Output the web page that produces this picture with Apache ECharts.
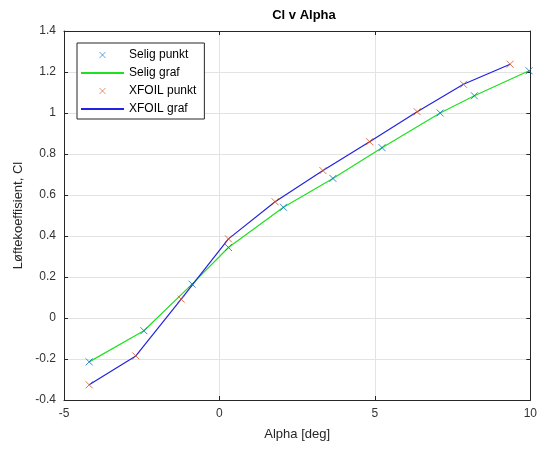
<!DOCTYPE html>
<html>
<head>
<meta charset="utf-8">
<script src="https://cdn.jsdelivr.net/npm/echarts@6/dist/echarts.min.js"></script>
<style>
  html, body { margin: 0; padding: 0; background: #fff; }
  #chart { width: 540px; height: 450px; }
</style>
</head>
<body>
<div id="chart"></div>
<script>
// verdier lest av figuren
const seligAlpha = [-4.19, -2.43, -0.88, 0.29, 2.06, 3.65, 5.23, 7.1, 8.2, 9.96];
const seligCl = [-0.214, -0.062, 0.165, 0.344, 0.54, 0.681, 0.831, 1.0, 1.084, 1.206];
const xfoilAlpha = [-4.19, -2.69, -1.23, 0.29, 1.79, 3.33, 4.83, 6.36, 7.85, 9.35];
const xfoilCl = [-0.326, -0.185, 0.092, 0.386, 0.567, 0.719, 0.86, 1.006, 1.14, 1.238];
const seriesNames = ["Selig punkt", "Selig graf", "XFOIL punkt", "XFOIL graf"];

const font = "Liberation Sans";
const axisCol = "#262626";
const seligCol = "#0072BD";
const xfoilCol = "#D95319";
const crossPath = "path://M0,0L10,10M10,0L0,10";

const zip = (xs, ys) => xs.map((x, i) => [x, ys[i]]);

const chart = echarts.init(document.getElementById("chart"));

const frameAxis = (extra) => Object.assign({
  type: "value",
  axisLine: { show: true, onZero: false, lineStyle: { color: axisCol, width: 1 } },
  axisTick: { show: true, inside: true, length: 4, lineStyle: { color: axisCol } },
  axisLabel: { show: false },
  splitLine: { show: false }
}, extra);

// linjer i legenden skal ikke ha punkt i midten
const legendData = [
  { name: seriesNames[0], itemStyle: { color: "none", borderColor: seligCol, borderWidth: 0.8 } },
  { name: seriesNames[1], itemStyle: { opacity: 0 } },
  { name: seriesNames[2], itemStyle: { color: "none", borderColor: xfoilCol, borderWidth: 0.8 } },
  { name: seriesNames[3], itemStyle: { opacity: 0 } }
];

chart.setOption({
  animation: false,
  textStyle: { fontFamily: font },
  title: {
    text: "Cl v Alpha",
    left: 299, top: 4, textAlign: "center",
    textStyle: { fontFamily: font, fontSize: 13, fontWeight: "bold", color: "#000" }
  },
  legend: {
    data: legendData,
    orient: "vertical",
    left: 77, top: 43,
    padding: [6, 8, 4, 3],
    itemWidth: 43, itemHeight: 6, itemGap: 6,
    borderColor: axisCol, borderWidth: 1,
    backgroundColor: "#fff",
    textStyle: { fontFamily: font, fontSize: 12, color: "#000" }
  },
  grid: { left: 64, right: 8, top: 31, bottom: 50 },
  xAxis: [
    frameAxis({
      min: -5, max: 10, interval: 5,
      name: "Alpha [deg]", nameLocation: "middle", nameGap: 28,
      nameTextStyle: { fontFamily: font, fontSize: 13, color: "#262626" },
      axisLabel: { show: true, color: "#333", fontSize: 12, margin: 8 },
      splitLine: { show: true, lineStyle: { color: "#e3e3e3", width: 1 } }
    }),
    frameAxis({ min: -5, max: 10, interval: 5, position: "top" })
  ],
  yAxis: [
    frameAxis({
      min: -0.4, max: 1.4, interval: 0.2,
      name: "Løftekoeffisient, Cl", nameLocation: "middle", nameGap: 37,
      nameTextStyle: { fontFamily: font, fontSize: 13, color: "#262626" },
      axisLabel: { show: true, color: "#333", fontSize: 12, margin: 8 },
      splitLine: { show: true, lineStyle: { color: "#e3e3e3", width: 1 } }
    }),
    frameAxis({ min: -0.4, max: 1.4, interval: 0.2, position: "right" })
  ],
  series: [
    {
      name: "Selig punkt", type: "scatter", z: 3,
      symbol: crossPath, symbolSize: 7, symbolKeepAspect: true,
      itemStyle: { color: "none", borderColor: seligCol, borderWidth: 1 },
      data: zip(seligAlpha, seligCl)
    },
    {
      name: "Selig graf", type: "line", showSymbol: false, symbol: "none",
      lineStyle: { color: "#1ee01e", width: 1.2 },
      itemStyle: { color: "#1ee01e" },
      data: zip(seligAlpha, seligCl)
    },
    {
      name: "XFOIL punkt", type: "scatter", z: 3,
      symbol: crossPath, symbolSize: 7, symbolKeepAspect: true,
      itemStyle: { color: "none", borderColor: xfoilCol, borderWidth: 1 },
      data: zip(xfoilAlpha, xfoilCl)
    },
    {
      name: "XFOIL graf", type: "line", showSymbol: false, symbol: "none",
      lineStyle: { color: "#2222e0", width: 1.2 },
      itemStyle: { color: "#2222e0" },
      data: zip(xfoilAlpha, xfoilCl)
    }
  ]
});
</script>
</body>
</html>
